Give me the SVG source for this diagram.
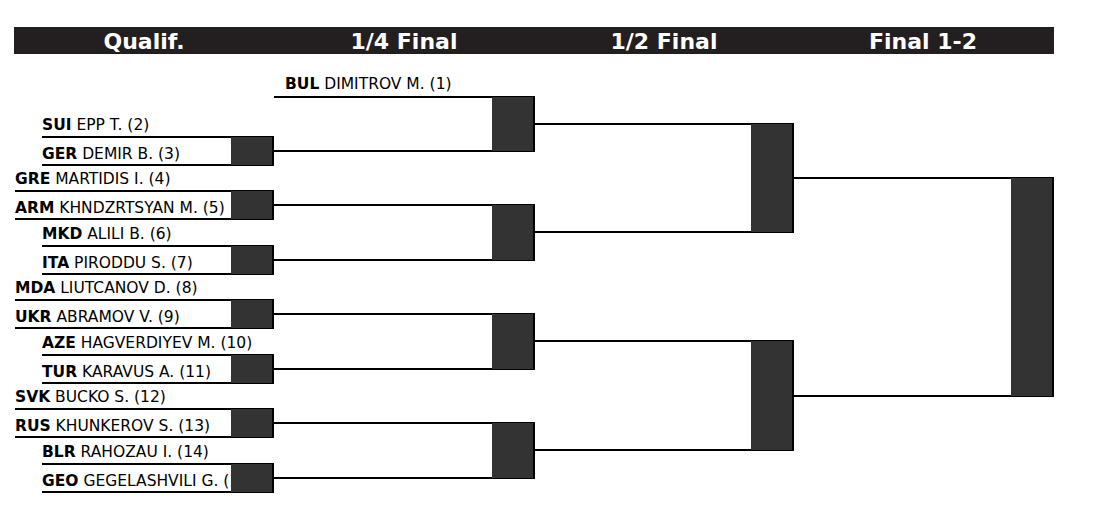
<svg xmlns="http://www.w3.org/2000/svg" width="1113" height="522" viewBox="0 0 1113 522">
<style>
.hdr{fill:#231f20}
.ht{font-family:"DejaVu Sans",sans-serif;font-weight:bold;font-size:22px;fill:#fff;text-anchor:middle}
.nm{font-family:"DejaVu Sans",sans-serif;font-size:15.5px;fill:#000}
.nm tspan.c{font-weight:bold}
.ln{stroke:#000;stroke-width:2;fill:none}
.bx{fill:#333}
</style>
<rect width="1113" height="522" fill="#fff"/>
<g id="header">
<rect class="hdr" x="14" y="27" width="1040" height="27"/>
<text class="ht" x="144" y="49">Qualif.</text>
<text class="ht" x="404" y="49">1/4 Final</text>
<text class="ht" x="664" y="49">1/2 Final</text>
<text class="ht" x="923" y="49">Final 1-2</text>
</g>
<g id="connectors">
<path class="ln" d="M42 137H273M42 165H273M15 191H273M15 219H273M42 246H273M42 274H273M15 300H273M15 328H273M42 355H273M42 383H273M15 409H273M15 437H273M42 464H273M42 492H273"/>
<path class="ln" d="M274 97H534M273 151H534M273 205H534M273 260H534M273 314H534M273 369H534M273 423H534M273 478H534"/>
<path class="ln" d="M534 124H793M534 232H793M534 341H793M534 450H793"/>
<path class="ln" d="M793 178H1053M793 396H1053"/>
</g>
<g id="entries">
<text class="nm" x="285" y="89"><tspan class="c">BUL</tspan> DIMITROV M. (1)</text>
<text class="nm" x="42" y="130"><tspan class="c">SUI</tspan> EPP T. (2)</text>
<text class="nm" x="42" y="159"><tspan class="c">GER</tspan> DEMIR B. (3)</text>
<text class="nm" x="15" y="184"><tspan class="c">GRE</tspan> MARTIDIS I. (4)</text>
<text class="nm" x="15" y="213"><tspan class="c">ARM</tspan> KHNDZRTSYAN M. (5)</text>
<text class="nm" x="42" y="239"><tspan class="c">MKD</tspan> ALILI B. (6)</text>
<text class="nm" x="42" y="268"><tspan class="c">ITA</tspan> PIRODDU S. (7)</text>
<text class="nm" x="15" y="293"><tspan class="c">MDA</tspan> LIUTCANOV D. (8)</text>
<text class="nm" x="15" y="322"><tspan class="c">UKR</tspan> ABRAMOV V. (9)</text>
<text class="nm" x="42" y="348"><tspan class="c">AZE</tspan> HAGVERDIYEV M. (10)</text>
<text class="nm" x="42" y="377"><tspan class="c">TUR</tspan> KARAVUS A. (11)</text>
<text class="nm" x="15" y="402"><tspan class="c">SVK</tspan> BUCKO S. (12)</text>
<text class="nm" x="15" y="431"><tspan class="c">RUS</tspan> KHUNKEROV S. (13)</text>
<text class="nm" x="42" y="457"><tspan class="c">BLR</tspan> RAHOZAU I. (14)</text>
<text class="nm" x="42" y="486"><tspan class="c">GEO</tspan> GEGELASHVILI G. (15)</text>
</g>
<g id="q1"><rect class="bx" x="231" y="137" width="42" height="28"/><path class="ln" d="M273 136V166"/></g>
<g id="q2"><rect class="bx" x="231" y="191" width="42" height="28"/><path class="ln" d="M273 190V220"/></g>
<g id="q3"><rect class="bx" x="231" y="246" width="42" height="28"/><path class="ln" d="M273 245V275"/></g>
<g id="q4"><rect class="bx" x="231" y="300" width="42" height="28"/><path class="ln" d="M273 299V329"/></g>
<g id="q5"><rect class="bx" x="231" y="355" width="42" height="28"/><path class="ln" d="M273 354V384"/></g>
<g id="q6"><rect class="bx" x="231" y="409" width="42" height="28"/><path class="ln" d="M273 408V438"/></g>
<g id="q7"><rect class="bx" x="231" y="464" width="42" height="28"/><path class="ln" d="M273 463V493"/></g>
<g id="qf1"><rect class="bx" x="492" y="97" width="42" height="54"/><path class="ln" d="M534 96V152"/></g>
<g id="qf2"><rect class="bx" x="492" y="205" width="42" height="55"/><path class="ln" d="M534 204V261"/></g>
<g id="qf3"><rect class="bx" x="492" y="314" width="42" height="55"/><path class="ln" d="M534 313V370"/></g>
<g id="qf4"><rect class="bx" x="492" y="423" width="42" height="55"/><path class="ln" d="M534 422V479"/></g>
<g id="sf1"><rect class="bx" x="751" y="124" width="42" height="108"/><path class="ln" d="M793 123V233"/></g>
<g id="sf2"><rect class="bx" x="751" y="341" width="42" height="109"/><path class="ln" d="M793 340V451"/></g>
<g id="final"><rect class="bx" x="1011" y="178" width="42" height="218"/><path class="ln" d="M1053 177V397"/></g>
</svg>
